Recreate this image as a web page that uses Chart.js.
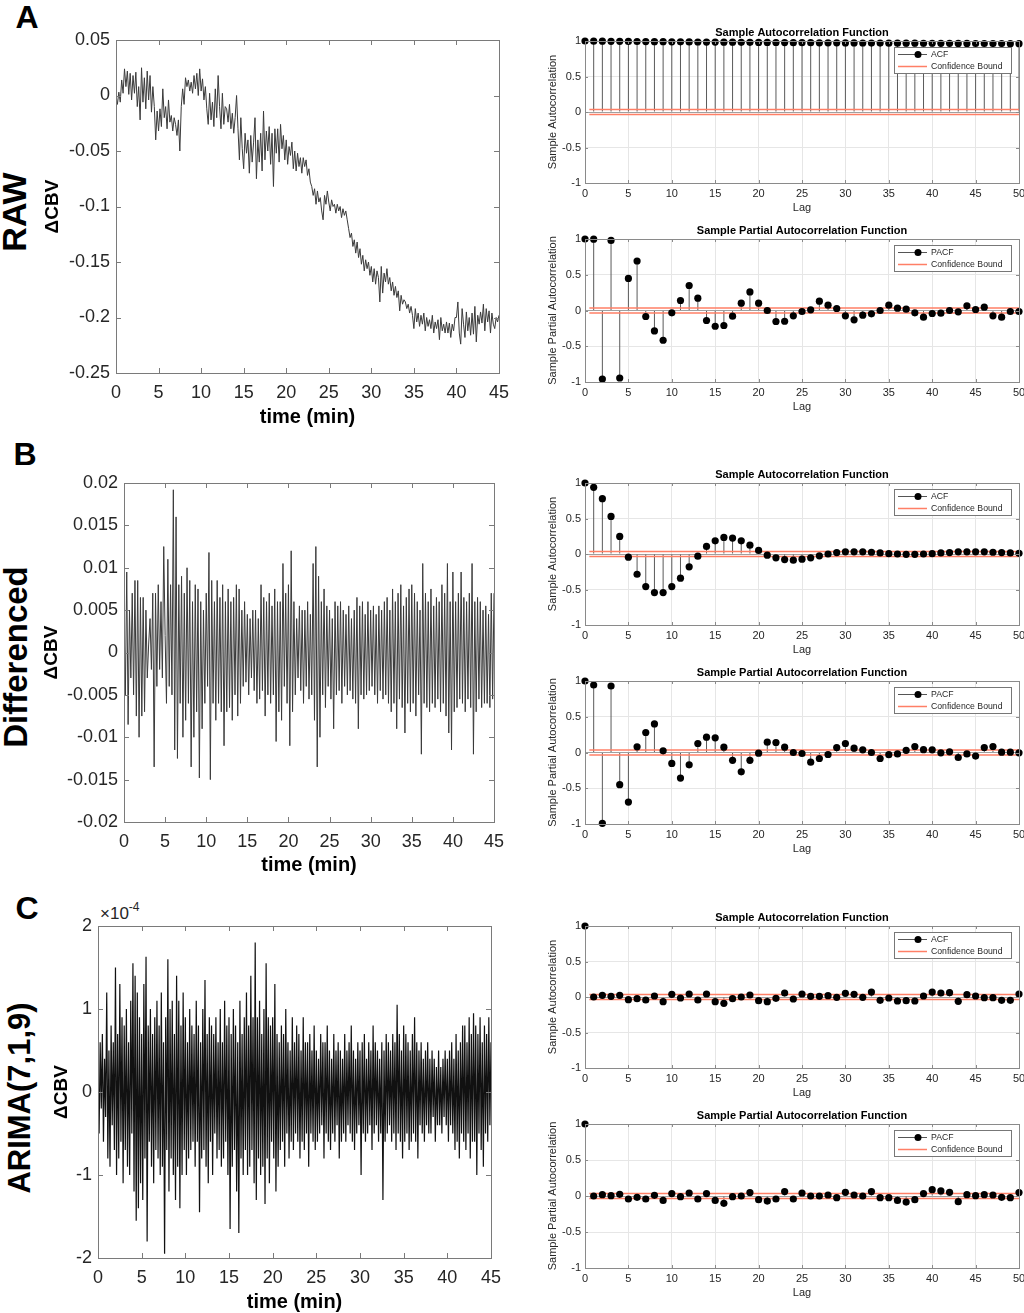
<!DOCTYPE html>
<html><head><meta charset="utf-8">
<script src="https://cdn.jsdelivr.net/npm/chart.js@4.4.1/dist/chart.umd.min.js"></script>
<style>
html,body{margin:0;padding:0;background:#fff;width:1024px;height:1313px;overflow:hidden;position:relative;font-family:"Liberation Sans",Arial,Helvetica,sans-serif;}
canvas{position:absolute;}
.lbl{position:absolute;font-weight:bold;color:#000;white-space:nowrap;line-height:1;}
.rot{transform:translate(-50%,-50%) rotate(-90deg);}
.ctr{transform:translate(-50%,-50%);}
</style></head><body>
<div class="lbl ctr" style="left:27px;top:17px;font-size:32px">A</div>
<div class="lbl ctr" style="left:25px;top:454px;font-size:32px">B</div>
<div class="lbl ctr" style="left:27px;top:908px;font-size:32px">C</div>
<div class="lbl rot" style="left:14px;top:212px;font-size:34px">RAW</div>
<div class="lbl rot" style="left:15px;top:657px;font-size:33px">Differenced</div>
<div class="lbl rot" style="left:19px;top:1098px;font-size:31px">ARIMA(7,1,9)</div>
<div style="position:absolute;left:100px;top:905px;font-size:17px;line-height:1;color:#262626;white-space:nowrap">×10<span style="font-size:12px;position:relative;top:-8px">-4</span></div>
<script>
// ---------------- data ----------------
const lags = [0,1,2,3,4,5,6,7,8,9,10,11,12,13,14,15,16,17,18,19,20,21,22,23,24,25,26,27,28,29,30,31,32,33,34,35,36,37,38,39,40,41,42,43,44,45,46,47,48,49,50];

const acfRaw = [1.000,.998,.997,.996,.995,.994,.993,.992,.991,.990,.989,.988,.987,.986,.985,.985,.984,.983,.982,.981,.980,.980,.979,.978,.977,.977,.976,.975,.975,.974,.973,.973,.972,.971,.971,.970,.970,.969,.969,.968,.968,.967,.967,.966,.966,.965,.965,.964,.964,.963,.963];
const pacfRaw = [1.0,.998,-.958,.98,-.944,.449,.692,-.084,-.285,-.416,-.033,.14,.35,.173,-.14,-.22,-.21,-.08,.103,.26,.103,0,-.154,-.15,-.075,-.014,.01,.13,.075,.028,-.075,-.13,-.065,-.047,0,.075,.033,.019,-.033,-.093,-.042,-.037,0,-.019,.065,.014,.047,-.075,-.093,-.014,-.014];
const acfDiff = [1,.939,.779,.529,.247,-.045,-.285,-.459,-.544,-.544,-.459,-.34,-.18,-.03,.106,.186,.233,.224,.186,.125,.05,-.016,-.054,-.078,-.087,-.073,-.054,-.026,0,.02,.03,.03,.03,.025,.015,.005,0,-.005,-.005,0,.005,.015,.02,.03,.03,.03,.03,.025,.02,.015,.01];
const pacfDiff = [1,.944,-.99,.93,-.45,-.693,.08,.28,.4,.023,-.153,-.358,-.172,.126,.214,.205,.074,-.11,-.27,-.11,-.009,.144,.14,.074,0,-.014,-.135,-.084,-.028,.07,.126,.06,.037,0,-.084,-.03,-.02,.03,.084,.04,.037,-.005,.01,-.07,-.02,-.05,.07,.084,.005,.005,-.005];
const acfArima = [1,0,.023,.009,.023,-.038,-.023,-.042,.014,-.066,.037,-.014,.042,-.042,.042,-.066,-.089,-.023,0,.028,-.052,-.066,-.019,.056,-.028,.042,.009,.009,.019,-.005,.052,.038,-.005,.07,-.047,-.014,-.056,-.052,-.056,.014,.07,.056,.061,-.061,.033,.014,-.009,-.009,-.047,-.047,.042];
const pacfArima = [1,0,.019,.005,.023,-.042,-.019,-.042,.009,-.061,.033,-.009,.042,-.042,.033,-.061,-.102,-.009,0,.047,-.051,-.07,-.042,.061,-.042,.042,0,0,.014,-.023,.051,.014,0,.061,-.023,-.023,-.061,-.084,-.051,.033,.088,.07,.051,-.079,.019,.005,.019,.014,-.019,-.023,.047];
const confBound = 0.035;
const confBoundLags = [0.5, 50];

// RAW ΔCBV, one sample every 10 s (1/6 min), 0..45 min
const rawStepMin = 1/6;
const rawCBV = [
0.000,-0.008,0.003,-0.006,0.014,0.002,
0.024,0.008,0.022,0.001,0.020,-0.004,
0.018,0.002,0.021,-0.010,0.008,-0.022,
0.025,-0.006,0.016,-0.012,0.022,-0.004,
0.018,-0.015,0.008,-0.010,-0.040,-0.014,
-0.032,-0.012,-0.028,0.006,-0.020,-0.010,
-0.030,-0.004,-0.024,-0.018,-0.032,-0.020,
-0.026,-0.036,-0.022,-0.050,-0.010,0.006,
-0.008,0.016,0.008,0.014,0.004,0.012,
0.002,0.018,0.006,0.020,0.000,0.024,
0.004,0.015,-0.004,0.008,-0.012,-0.026,
0.002,-0.022,-0.006,-0.028,0.006,-0.020,
0.018,-0.010,-0.030,0.002,-0.026,-0.010,
-0.012,-0.024,-0.008,-0.030,-0.016,-0.034,
-0.020,0.000,-0.030,-0.058,-0.020,-0.048,
-0.066,-0.034,-0.052,-0.040,-0.070,-0.036,
-0.060,-0.042,-0.020,-0.075,-0.040,-0.060,
-0.034,-0.068,-0.014,-0.058,-0.032,-0.050,
-0.028,-0.062,-0.034,-0.082,-0.030,-0.052,
-0.030,-0.060,-0.026,-0.048,-0.036,-0.058,
-0.040,-0.062,-0.046,-0.054,-0.042,-0.066,
-0.050,-0.068,-0.052,-0.064,-0.056,-0.070,
-0.056,-0.064,-0.058,-0.072,-0.066,-0.078,
-0.082,-0.090,-0.084,-0.098,-0.086,-0.096,
-0.092,-0.104,-0.112,-0.090,-0.098,-0.086,
-0.096,-0.104,-0.094,-0.100,-0.098,-0.106,
-0.098,-0.104,-0.100,-0.110,-0.102,-0.108,
-0.104,-0.112,-0.120,-0.128,-0.124,-0.136,
-0.130,-0.142,-0.132,-0.146,-0.138,-0.152,
-0.144,-0.158,-0.148,-0.156,-0.150,-0.162,
-0.154,-0.168,-0.156,-0.170,-0.158,-0.164,
-0.186,-0.154,-0.178,-0.160,-0.168,-0.156,
-0.170,-0.164,-0.176,-0.168,-0.180,-0.172,
-0.182,-0.176,-0.194,-0.180,-0.188,-0.184,
-0.186,-0.192,-0.188,-0.196,-0.190,-0.198,
-0.210,-0.192,-0.204,-0.196,-0.208,-0.198,
-0.206,-0.196,-0.212,-0.200,-0.208,-0.202,
-0.210,-0.198,-0.214,-0.204,-0.210,-0.202,
-0.220,-0.200,-0.212,-0.206,-0.214,-0.204,
-0.214,-0.205,-0.218,-0.206,-0.212,-0.200,
-0.200,-0.186,-0.214,-0.224,-0.192,-0.206,
-0.218,-0.195,-0.212,-0.200,-0.216,-0.196,
-0.215,-0.190,-0.222,-0.198,-0.206,-0.195,
-0.205,-0.188,-0.212,-0.192,-0.204,-0.194,
-0.214,-0.196,-0.206,-0.210,-0.200,-0.204,
-0.198];

// Differenced ΔCBV, one sample every 10 s
const diffStepMin = 1/6;
const diffCBV = [
.0040,-.0050,.0095,-.0085,.0050,-.0030,
.0070,-.0050,.0085,-.0075,.0085,-.0100,
.0065,-.0075,.0065,-.0070,.0050,-.0030,
.0010,.0040,-.0020,.0070,-.0135,.0070,
-.0040,.0080,-.0020,.0060,-.0030,.0125,
.0020,-.0060,.0110,-.0040,.0080,-.0050,
.0192,-.0115,.0160,-.0125,.0080,-.0060,
.0090,-.0100,.0070,-.0080,.0100,-.0060,
.0085,-.0135,.0060,-.0100,.0080,-.0070,
.0075,-.0148,.0060,-.0090,.0050,-.0060,
.0070,-.0040,.0118,-.0150,.0085,-.0060,
.0060,-.0080,.0085,-.0060,.0065,-.0070,
.0080,-.0110,.0060,-.0070,.0075,-.0065,
.0060,-.0080,.0065,-.0050,.0080,-.0075,
.0075,-.0060,.0050,-.0040,.0060,-.0035,
.0045,-.0050,.0040,-.0030,.0050,-.0045,
.0050,-.0060,.0040,-.0055,.0080,-.0045,
.0065,-.0075,.0060,-.0050,.0070,-.0060,
.0055,-.0050,.0075,-.0105,.0060,-.0070,
.0060,-.0080,.0105,-.0040,.0070,-.0060,
.0080,-.0110,.0120,-.0070,.0060,-.0050,
.0040,-.0030,.0055,-.0045,.0050,-.0060,
.0050,-.0040,.0060,-.0055,.0045,-.0050,
.0105,-.0080,.0125,-.0135,.0090,-.0100,
.0060,-.0050,.0075,-.0065,.0055,-.0040,
.0050,-.0055,.0040,-.0090,.0060,-.0050,
.0055,-.0045,.0060,-.0060,.0050,-.0040,
.0045,-.0050,.0055,-.0045,.0040,-.0055,
.0050,-.0060,.0065,-.0090,.0055,-.0050,
.0060,-.0055,.0045,-.0050,.0060,-.0045,
.0050,-.0040,.0055,-.0050,.0045,-.0060,
.0055,-.0045,.0050,-.0055,.0060,-.0050,
.0065,-.0060,.0050,-.0070,.0075,-.0060,
.0060,-.0090,.0070,-.0055,.0080,-.0065,
.0055,-.0095,.0065,-.0060,.0075,-.0070,
.0080,-.0060,.0070,-.0075,.0060,-.0050,
.0050,-.0120,.0105,-.0060,.0070,-.0065,
.0060,-.0070,.0075,-.0060,.0055,-.0065,
.0065,-.0055,.0060,-.0070,.0080,-.0060,
.0070,-.0075,.0105,-.0095,.0060,-.0115,
.0095,-.0070,.0060,-.0065,.0070,-.0055,
.0095,-.0060,.0065,-.0070,.0060,-.0055,
.0070,-.0065,.0105,-.0120,.0060,-.0070,
.0065,-.0055,.0060,-.0065,.0050,-.0060,
.0055,-.0060,.0045,-.0065,.0070,-.0055,
.0070];

// ARIMA(7,1,9) residual ΔCBV in units of 1e-4, one sample every 7.5 s
const arimaStepMin = 1/8;
const arimaResidE4 = [
0.3,-0.5,0.6,-0.2,0.7,-0.6,0.4,-0.3,
1.2,-0.8,0.5,-0.9,0.8,-0.4,0.6,-0.7,
1.5,-1.0,0.7,-0.8,1.3,-0.6,0.9,-1.1,
0.8,-0.7,1.0,-0.9,0.6,-1.0,1.1,-0.5,
1.55,-1.2,1.4,-1.55,1.2,-1.4,0.9,-1.1,
0.7,-1.3,1.3,-0.8,1.63,-1.8,0.8,-0.6,
1.0,-0.9,0.7,-1.1,0.9,-0.7,1.1,-0.8,
0.8,-1.0,1.2,-0.9,0.6,-1.95,0.9,-0.7,
1.6,-1.2,1.0,-0.8,1.1,-1.0,0.7,-1.3,
1.4,-0.9,1.1,-1.4,0.8,-1.0,1.2,-0.7,
0.9,-1.0,0.6,-0.8,1.0,-0.7,0.8,-0.6,
0.7,-0.9,1.1,-0.6,0.8,-1.45,0.6,-0.8,
1.0,-0.7,1.35,-0.9,0.7,-1.1,0.9,-0.6,
0.8,-1.0,0.7,-0.5,0.9,-0.8,0.6,-0.7,
1.0,-0.9,0.6,-0.8,1.1,-0.6,0.8,-1.0,
0.9,-1.65,0.7,-0.9,1.0,-0.7,0.8,-1.2,
0.6,-1.7,1.1,-0.8,0.7,-1.0,0.9,-0.7,
1.2,-1.0,0.8,-0.9,1.4,-0.7,0.9,-1.1,
1.8,-1.3,0.9,-0.8,1.1,-1.0,0.7,-0.9,
1.0,-1.35,1.55,-0.8,0.9,-1.1,0.8,-0.6,
0.9,-0.8,1.3,-1.2,0.7,-0.9,0.6,-0.7,
0.8,-0.6,0.7,-0.9,1.0,-0.5,0.6,-0.8,
0.5,-0.6,0.9,-0.7,0.6,-0.5,0.8,-0.6,
0.7,-0.8,0.5,-0.6,0.9,-0.7,0.6,-0.5,
0.6,-0.9,0.7,-0.5,0.5,-0.6,0.8,-0.7,
0.5,-0.6,0.4,-0.5,0.7,-0.4,0.6,-0.8,
0.6,-0.5,0.8,-0.6,0.5,-0.7,0.4,-0.5,
0.7,-0.6,0.5,-0.4,0.6,-0.8,0.5,-0.6,
0.4,-0.5,0.7,-0.6,0.5,-0.4,0.6,-0.5,
0.8,-0.6,0.5,-0.7,0.4,-0.5,0.6,-0.4,
0.5,-1.0,0.6,-0.5,0.7,-0.6,0.4,-0.5,
0.6,-0.4,0.5,-0.7,0.8,-0.5,0.6,-0.4,
0.5,-0.6,0.4,-0.5,0.6,-1.3,0.5,-0.6,
0.7,-0.5,0.6,-0.4,0.5,-0.6,0.7,-0.5,
0.6,-0.7,1.05,-0.5,0.7,-0.6,0.5,-0.8,
0.8,-0.6,0.7,-0.5,0.6,-0.7,0.5,-0.6,
0.7,-0.5,0.9,-0.6,0.6,-0.8,0.5,-0.4,
0.6,-0.5,0.4,-0.6,0.5,-0.4,0.6,-0.5,
0.4,-0.5,0.5,-0.3,0.4,-0.6,0.3,-0.4,
0.5,-0.4,0.3,-0.5,0.4,-0.3,0.5,-0.4,
0.4,-0.6,0.5,-0.4,0.6,-0.5,0.4,-0.7,
0.7,-0.6,0.5,-0.8,0.6,-0.5,0.8,-0.6,
0.8,-0.7,0.6,-0.5,0.9,-0.8,0.7,-0.6,
0.95,-0.6,0.8,-1.0,0.7,-0.5,0.9,-0.7,
0.6,-0.9,0.8,-0.5,0.7,-0.6,0.9,-0.4,
0.6];

// ---------------- rendering ----------------
const FONT = '"Liberation Sans", Arial, Helvetica, sans-serif';
const RED = '#ff7f66';
const TICK_COLOR = '#262626';
Chart.defaults.font.family = FONT;

const xy = (vals, dt) => vals.map((v, i) => ({x: i * dt, y: v}));
const stemXY = vals => lags.map((l, i) => ({x: l, y: vals[i]}));
const fmt = v => String(parseFloat(Number(v).toFixed(6)) + 0);

function makeCanvas(box) {
  const c = document.createElement('canvas');
  c.width = box.w; c.height = box.h;
  c.style.left = box.left + 'px'; c.style.top = box.top + 'px';
  c.style.width = box.w + 'px'; c.style.height = box.h + 'px';
  document.body.appendChild(c);
  return c;
}

const frameTicks = {
  id: 'frameTicks',
  afterDraw(chart, args, o) {
    const {ctx, chartArea: a} = chart;
    const sx = chart.scales.x, sy = chart.scales.y;
    const L = o.len || 5;
    ctx.save();
    ctx.strokeStyle = o.color || '#777';
    ctx.lineWidth = 1;
    ctx.beginPath();
    sx.ticks.forEach(t => {
      const p = Math.round(sx.getPixelForValue(t.value)) + 0.5;
      ctx.moveTo(p, a.bottom); ctx.lineTo(p, a.bottom - L);
      ctx.moveTo(p, a.top); ctx.lineTo(p, a.top + L);
    });
    sy.ticks.forEach(t => {
      const p = Math.round(sy.getPixelForValue(t.value)) + 0.5;
      ctx.moveTo(a.left, p); ctx.lineTo(a.left + L, p);
      ctx.moveTo(a.right, p); ctx.lineTo(a.right - L, p);
    });
    ctx.stroke();
    ctx.strokeRect(Math.round(a.left) + 0.5, Math.round(a.top) + 0.5,
                   Math.round(a.right - a.left), Math.round(a.bottom - a.top));
    ctx.restore();
  }
};

const stemLegend = {
  id: 'stemLegend',
  afterDraw(chart, args, o) {
    const {ctx, chartArea: a} = chart;
    const w = 117, h = 26;
    const bx = Math.round(a.right - 8 - w), by = Math.round(a.top + 6);
    ctx.save();
    ctx.fillStyle = '#fff';
    ctx.fillRect(bx, by, w, h);
    ctx.strokeStyle = '#777'; ctx.lineWidth = 1;
    ctx.strokeRect(bx + 0.5, by + 0.5, w, h);
    const r1 = by + 7.5, r2 = by + 19.5;
    ctx.strokeStyle = '#555'; ctx.lineWidth = 1;
    ctx.beginPath(); ctx.moveTo(bx + 4, r1); ctx.lineTo(bx + 33, r1); ctx.stroke();
    ctx.fillStyle = '#000';
    ctx.beginPath(); ctx.arc(bx + 24, r1, 3.5, 0, Math.PI * 2); ctx.fill();
    ctx.strokeStyle = RED; ctx.lineWidth = 1.5;
    ctx.beginPath(); ctx.moveTo(bx + 4, r2); ctx.lineTo(bx + 33, r2); ctx.stroke();
    ctx.fillStyle = TICK_COLOR;
    ctx.font = '8.7px ' + FONT;
    ctx.textBaseline = 'middle'; ctx.textAlign = 'left';
    ctx.fillText(o.label, bx + 37, r1);
    ctx.fillText('Confidence Bound', bx + 37, r2);
    ctx.restore();
  }
};

function seriesChart(box, plot, vals, dt, yMin, yMax, yStep, yTitlePad, xTitlePad, color, lw) {
  const canvas = makeCanvas(box);
  return new Chart(canvas, {
    type: 'scatter',
    data: {datasets: [{data: xy(vals, dt), showLine: true, borderColor: color, borderWidth: lw,
                       pointRadius: 0, tension: 0, fill: false}]},
    options: {
      responsive: false, animation: false, events: [],
      layout: {padding: {top: plot.t - box.top, right: box.left + box.w - plot.r, left: 0, bottom: 0}},
      plugins: {legend: {display: false}, tooltip: {enabled: false}, frameTicks: {len: 5, color: '#7a7a7a'}},
      scales: {
        x: {type: 'linear', min: 0, max: 45,
            ticks: {stepSize: 5, padding: 9, color: TICK_COLOR, font: {size: 18}, callback: fmt, maxRotation: 0, autoSkip: false},
            grid: {display: false, drawTicks: false}, border: {display: false},
            title: {display: true, text: 'time (min)', color: '#000', font: {size: 20, weight: 'bold'}, padding: {top: 0, bottom: xTitlePad}},
            afterFit: s => { s.height = box.top + box.h - plot.b; s.paddingLeft = 0; s.paddingRight = 0; }},
        y: {type: 'linear', min: yMin, max: yMax,
            ticks: {stepSize: yStep, padding: 6, color: TICK_COLOR, font: {size: 18}, callback: fmt, autoSkip: false},
            grid: {display: false, drawTicks: false}, border: {display: false},
            title: {display: true, text: 'ΔCBV', color: '#000', font: {size: 19, weight: 'bold'}, padding: {top: yTitlePad, bottom: 0}},
            afterFit: s => { s.width = plot.l - box.left; s.paddingTop = 0; s.paddingBottom = 0; }}
      }
    },
    plugins: [frameTicks]
  });
}

function stemChart(T, B, title, yTitle, legendLabel, vals) {
  const box = {left: 540, top: T - 21, w: 484, h: B - T + 56};
  const plot = {l: 585, t: T, r: 1019, b: B};
  const canvas = makeCanvas(box);
  const pts = stemXY(vals);
  return new Chart(canvas, {
    type: 'scatter',
    data: {datasets: [
      {type: 'scatter', data: pts, pointRadius: 3.6, pointBackgroundColor: '#000', pointBorderColor: '#000', pointBorderWidth: 0, showLine: false, clip: false, order: 0},
      {type: 'line', data: confBoundLags.map(l => ({x: l, y: confBound})), borderColor: RED, borderWidth: 1.5, pointRadius: 0, order: 1},
      {type: 'line', data: confBoundLags.map(l => ({x: l, y: -confBound})), borderColor: RED, borderWidth: 1.5, pointRadius: 0, order: 1},
      {type: 'bar', data: pts, backgroundColor: '#5a5a5a', borderWidth: 0, barThickness: 1, inflateAmount: 0, order: 2}
    ]},
    options: {
      responsive: false, animation: false, events: [],
      layout: {padding: {top: plot.t - box.top - 21, right: box.left + box.w - plot.r, left: 0, bottom: 0}},
      plugins: {
        legend: {display: false}, tooltip: {enabled: false},
        title: {display: true, text: title, fullSize: false, color: '#000', font: {size: 11, weight: 'bold'}, padding: {top: 6.4, bottom: 1.4}},
        frameTicks: {len: 3, color: '#8a8a8a'},
        stemLegend: {label: legendLabel}
      },
      scales: {
        x: {type: 'linear', min: 0, max: 50, offset: false,
            ticks: {stepSize: 5, padding: 4.4, color: TICK_COLOR, font: {size: 11}, callback: fmt, maxRotation: 0, autoSkip: false},
            grid: {color: '#e6e6e6', drawTicks: false, offset: false}, border: {display: false},
            title: {display: true, text: 'Lag', color: TICK_COLOR, font: {size: 11}, padding: {top: 0, bottom: 3.4}},
            afterFit: s => { s.height = box.top + box.h - plot.b; s.paddingLeft = 0; s.paddingRight = 0; }},
        y: {type: 'linear', min: -1, max: 1,
            ticks: {stepSize: 0.5, padding: 4, color: TICK_COLOR, font: {size: 11}, callback: fmt, autoSkip: false},
            grid: {color: c => (c.tick && c.tick.value === 0 ? '#a0a0a0' : '#e6e6e6'), drawTicks: false}, border: {display: false},
            title: {display: true, text: yTitle, color: TICK_COLOR, font: {size: 11}, padding: {top: 6.4, bottom: 0}},
            afterFit: s => { s.width = plot.l - box.left; s.paddingTop = 0; s.paddingBottom = 0; }}
      }
    },
    plugins: [frameTicks, stemLegend]
  });
}

// Left column: time series
seriesChart({left: 30, top: 20, w: 500, h: 410}, {l: 116, t: 40, r: 499, b: 373},
            rawCBV, rawStepMin, -0.25, 0.05, 0.05, 11.6, 1, '#3a3a3a', 1);
seriesChart({left: 30, top: 463, w: 500, h: 416}, {l: 124, t: 483, r: 494, b: 822},
            diffCBV, diffStepMin, -0.02, 0.02, 0.005, 10.6, 2, '#3a3a3a', 1);
seriesChart({left: 30, top: 906, w: 500, h: 409}, {l: 98, t: 926, r: 491, b: 1258},
            arimaResidE4, arimaStepMin, -2, 2, 1, 20.6, 1, '#111', 1.2);

// Right column: ACF / PACF stem plots
stemChart(41, 183, 'Sample Autocorrelation Function', 'Sample Autocorrelation', 'ACF', acfRaw);
stemChart(239, 382, 'Sample Partial Autocorrelation Function', 'Sample Partial Autocorrelation', 'PACF', pacfRaw);
stemChart(483, 625, 'Sample Autocorrelation Function', 'Sample Autocorrelation', 'ACF', acfDiff);
stemChart(681, 824, 'Sample Partial Autocorrelation Function', 'Sample Partial Autocorrelation', 'PACF', pacfDiff);
stemChart(926, 1068, 'Sample Autocorrelation Function', 'Sample Autocorrelation', 'ACF', acfArima);
stemChart(1124, 1268, 'Sample Partial Autocorrelation Function', 'Sample Partial Autocorrelation', 'PACF', pacfArima);
</script>
</body></html>
